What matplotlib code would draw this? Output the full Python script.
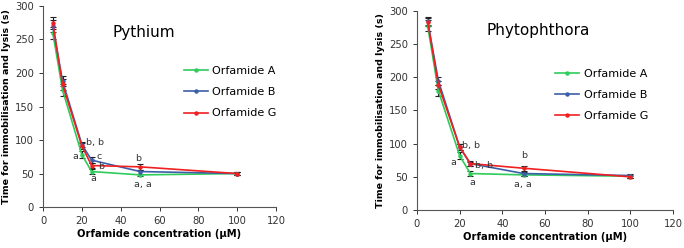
import matplotlib.pyplot as plt
from matplotlib.lines import Line2D

conc = [5, 10, 20, 25, 50, 100]
series_names = ["Orfamide A", "Orfamide B", "Orfamide G"]
colors = ["#2ECC5A", "#3A5FA8", "#F02020"]

pyth_A = [260, 175, 78, 53, 48, 50]
pyth_B = [270, 188, 93, 70, 53, 50]
pyth_G = [275, 183, 91, 62, 60, 50]
pyth_errA = [9, 9, 5, 4, 2, 2]
pyth_errB = [9, 8, 4, 4, 3, 2]
pyth_errG = [9, 8, 4, 4, 4, 2]

phyt_A = [278, 180, 82, 55, 53, 51]
phyt_B = [285, 195, 95, 70, 55, 52]
phyt_G = [284, 189, 95, 70, 63, 50]
phyt_errA = [9, 8, 5, 4, 2, 2]
phyt_errB = [6, 6, 4, 4, 3, 3]
phyt_errG = [6, 6, 4, 3, 4, 2]

pyth_labels = [("a", 16.5, 76), ("b, b", 26.5, 97), ("c", 28.8, 76), ("b", 29.8, 60),
               ("a", 25.7, 43), ("b", 49, 73), ("a, a", 51.5, 34)]
phyt_labels = [("a", 17, 71), ("b, b", 25.5, 98), ("b, b", 31.5, 67), ("a", 25.8, 41),
               ("b", 50, 82), ("a, a", 49.7, 39)]

fig = plt.figure(figsize=(6.84, 2.48), dpi=100)
ax1 = fig.add_axes([0.063, 0.165, 0.3405, 0.811])
ax2 = fig.add_axes([0.6096, 0.153, 0.3744, 0.803])

def draw(ax, ys, errs, title, labels, tx, ty, lx, ly):
    for y, e, c in zip(ys, errs, colors):
        ax.errorbar(conc, y, yerr=e, color=c, lw=1.2, marker='o', ms=2.2,
                    ecolor='#222222', elinewidth=0.8, capsize=2, capthick=0.8)
    ax.set_xlim(0, 120)
    ax.set_ylim(0, 300)
    ax.set_xticks(range(0, 121, 20))
    ax.set_yticks(range(0, 301, 50))
    for s in ['top', 'right']:
        ax.spines[s].set_visible(False)
    ax.spines['left'].set_color('#555555')
    ax.spines['bottom'].set_color('#555555')
    ax.tick_params(labelsize=7.2, length=3, width=0.7, colors='#333333', direction='out')
    ax.set_xlabel("Orfamide concentration (µM)", fontsize=7.2, fontweight='bold', labelpad=2)
    ax.set_ylabel("Time for immobilisation and lysis (s)", fontsize=6.8, fontweight='bold', labelpad=3)
    ax.text(tx, ty, title, fontsize=11, transform=ax.transAxes, ha='left', va='center')
    for t, x, y in labels:
        ax.text(x, y, t, fontsize=6.8, ha='center', va='center', color='#333333')
    handles = [Line2D([], [], color=c, lw=1.2, marker='o', ms=2.2) for c in colors]
    ax.legend(handles, series_names, loc='upper left', bbox_to_anchor=(lx, ly), frameon=False,
              fontsize=8, handlelength=2.2, labelspacing=1.0, handletextpad=0.4)

draw(ax1, [pyth_A, pyth_B, pyth_G], [pyth_errA, pyth_errB, pyth_errG], "Pythium",
     pyth_labels, 0.30, 0.87, 0.56, 0.75)
draw(ax2, [phyt_A, phyt_B, phyt_G], [phyt_errA, phyt_errB, phyt_errG], "Phytophthora",
     phyt_labels, 0.27, 0.90, 0.50, 0.76)

fig.savefig("out.png", dpi=100)
